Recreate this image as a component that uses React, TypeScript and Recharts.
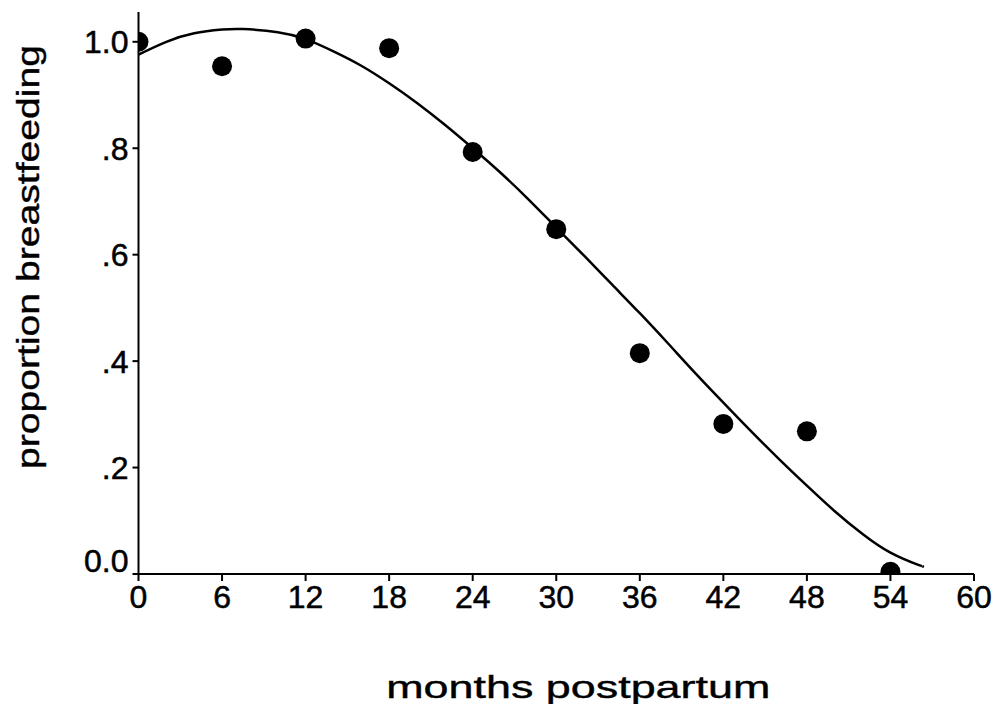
import { ComposedChart, Line, Scatter, XAxis, YAxis, Label } from 'recharts';

const FONT = '"Liberation Sans", Arial, Helvetica, sans-serif';

// observed proportions, every 6 months
const obsMonths = [0, 6, 12, 18, 24, 30, 36, 42, 48, 54];
const obsProportion = [1.0, 0.954, 1.006, 0.988, 0.793, 0.648, 0.415, 0.282, 0.268, 0.004];

// fitted curve
const fitMonths = [0, 2, 4, 6, 7.5, 10, 12, 14, 16, 18, 20, 22, 24, 26, 28, 30, 32, 34, 36, 38, 40, 42, 44, 46, 48, 50, 52, 54, 56, 56.3];
const fitProportion = [
  0.976, 1.0, 1.016, 1.023, 1.024, 1.018, 1.005, 0.982, 0.955, 0.922, 0.885, 0.844, 0.8, 0.754,
  0.704, 0.651, 0.598, 0.544, 0.49, 0.434, 0.377, 0.322, 0.268, 0.216, 0.166, 0.118, 0.075,
  0.04, 0.017, 0.015,
];

const xTicks = [0, 6, 12, 18, 24, 30, 36, 42, 48, 54, 60];
const yTicks = [0, 0.2, 0.4, 0.6, 0.8, 1.0];
const yTickLabels = ['0.0', '.2', '.4', '.6', '.8', '1.0'];

const observed = obsMonths.map((m, i) => ({ x: m, y: obsProportion[i] }));
const fitted = fitMonths.map((m, i) => ({ x: m, y: fitProportion[i] }));

function XTick({ x, y, payload }: any) {
  return (
    <text
      x={x}
      y={y}
      dy="0.71em"
      textAnchor="middle"
      fontFamily={FONT}
      fontSize={32}
      fill="#000"
      stroke="#000"
      strokeWidth={0.5}
    >
      {payload.value}
    </text>
  );
}

function YTick({ x, y, payload, index }: any) {
  const i = yTicks.indexOf(payload.value);
  return (
    <text
      x={x}
      y={payload.value === 0 ? y - 14 : y}
      dy="0.36em"
      textAnchor="end"
      fontFamily={FONT}
      fontSize={32}
      fill="#000"
      stroke="#000"
      strokeWidth={0.5}
    >
      {yTickLabels[i >= 0 ? i : index]}
    </text>
  );
}

export default function App() {
  return (
    <div style={{ background: '#fff', width: 995, height: 704 }}>
      <style>{'body{margin:0;background:#fff}'}</style>
      <ComposedChart width={995} height={704} margin={{ top: 12, right: 21, bottom: 0, left: 0 }}>
        <XAxis
          type="number"
          dataKey="x"
          domain={[0, 60]}
          ticks={xTicks}
          allowDataOverflow
          height={130}
          tickSize={7}
          tickMargin={4}
          tick={<XTick />}
          axisLine={{ stroke: '#000', strokeWidth: 2 }}
          tickLine={{ stroke: '#000', strokeWidth: 2 }}
        >
          <Label
            content={({ viewBox }: any) => (
              <text
                x={viewBox.x + viewBox.width / 2 + 22}
                y={viewBox.y + 124}
                textAnchor="middle"
                fontFamily={FONT}
                fontSize={32}
                textLength={384}
                lengthAdjust="spacingAndGlyphs"
                fill="#000"
                stroke="#000"
                strokeWidth={0.4}
              >
                months postpartum
              </text>
            )}
          />
        </XAxis>
        <YAxis
          type="number"
          dataKey="y"
          domain={[0, 1.056]}
          ticks={yTicks}
          allowDataOverflow
          width={138.5}
          tickSize={6}
          tickMargin={4}
          tick={<YTick />}
          axisLine={{ stroke: '#000', strokeWidth: 2 }}
          tickLine={{ stroke: '#000', strokeWidth: 2 }}
        >
          <Label
            content={({ viewBox }: any) => (
              <text
                x={viewBox.x + 39}
                y={viewBox.y + 245}
                transform={`rotate(-90 ${viewBox.x + 39} ${viewBox.y + 245})`}
                textAnchor="middle"
                fontFamily={FONT}
                fontSize={32}
                textLength={424}
                lengthAdjust="spacingAndGlyphs"
                fill="#000"
                stroke="#000"
                strokeWidth={0.4}
              >
                proportion breastfeeding
              </text>
            )}
          />
        </YAxis>
        <Line
          data={fitted}
          dataKey="y"
          type="natural"
          stroke="#000"
          strokeWidth={2.5}
          dot={false}
          activeDot={false}
          isAnimationActive={false}
        />
        <Scatter
          data={observed}
          dataKey="y"
          fill="#000"
          shape={(p: any) => <circle cx={p.cx} cy={p.cy} r={10} fill="#000" />}
          isAnimationActive={false}
        />
      </ComposedChart>
    </div>
  );
}
